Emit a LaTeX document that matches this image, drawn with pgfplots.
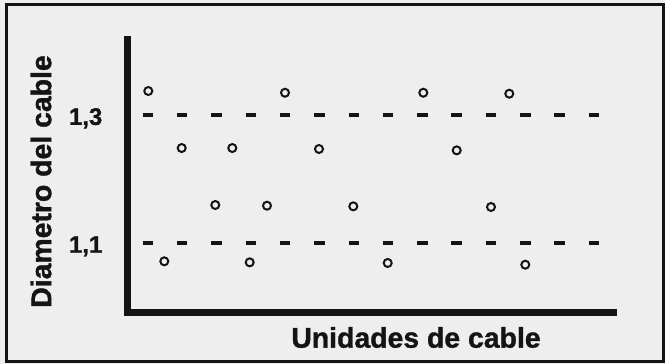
\documentclass[border=0pt]{standalone}
\usepackage{fontspec}
\setmainfont{Liberation Sans}[BoldFeatures={FakeBold=1.2}]
\usepackage{pgfplots}
\pgfplotsset{compat=1.18}
\usetikzlibrary{backgrounds}
\definecolor{paper}{RGB}{238,238,238}
\definecolor{ink}{RGB}{20,20,20}

\begin{document}
\begin{tikzpicture}
\begin{axis}[
    name=ax,
    scale only axis,
    width=486.5bp, height=272.95bp,
    xmin=127.5, xmax=614,
    ymin=0.9911, ymax=1.4176,
    axis x line=bottom, axis y line=left,
    axis line style={ink, line width=6.5bp, -, line cap=rect},
    xtick=\empty,
    ytick={1.1,1.3},
    yticklabels={\textbf{1,1},\textbf{1,3}},
    major tick length=0pt,
    yticklabel style={ink, font=\fontsize{24}{24}\selectfont, anchor=east,
        inner sep=0pt, text depth=0pt, xshift=-25bp, yshift=-1.5bp},
    xlabel={\bfseries Unidades de cable},
    ylabel={\bfseries Diametro del cable},
    label style={ink, font=\fontsize{28.5}{30}\selectfont, inner sep=0pt},
    xlabel style={at={(axis description cs:0.593,-0.0909)}, anchor=center},
    ylabel style={at={(axis description cs:-0.1778,0.4807)}, anchor=center},
    clip=false,
]
% tolerance lines
\addplot[ink, line width=3.2bp, dash pattern=on 10.5bp off 23.8bp]
    coordinates {(142.7,1.3) (599.3,1.3)};
\addplot[ink, line width=3.2bp, dash pattern=on 10.5bp off 23.8bp]
    coordinates {(142.7,1.1) (599.3,1.1)};
% measured units
\addplot[only marks, mark=o, mark size=4bp, ink, line width=2bp]
    table {
    x y
    148.3 1.3375
    164.3 1.0714
    181.7 1.2484
    215.3 1.1594
    232.3 1.2484
    249.7 1.0698
    267.0 1.1583
    285.0 1.3348
    319.0 1.2469
    353.3 1.1573
    387.7 1.0688
    423.3 1.3348
    456.7 1.2448
    491.0 1.1563
    509.3 1.3333
    525.3 1.0661
    };
\end{axis}
\useasboundingbox ([shift={(-127.5bp,-51.3bp)}]ax.south west)
    rectangle ([shift={(537.5bp,312.7bp)}]ax.south west);
\begin{scope}[on background layer]
\fill[paper] ([shift={(-127.5bp,-51.3bp)}]ax.south west)
    rectangle ([shift={(537.5bp,312.7bp)}]ax.south west);
\end{scope}
\draw[ink, line width=3bp] ([shift={(-120.5bp,-48.3bp)}]ax.south west)
    rectangle ([shift={(535.5bp,307.7bp)}]ax.south west);
\end{tikzpicture}
\end{document}
